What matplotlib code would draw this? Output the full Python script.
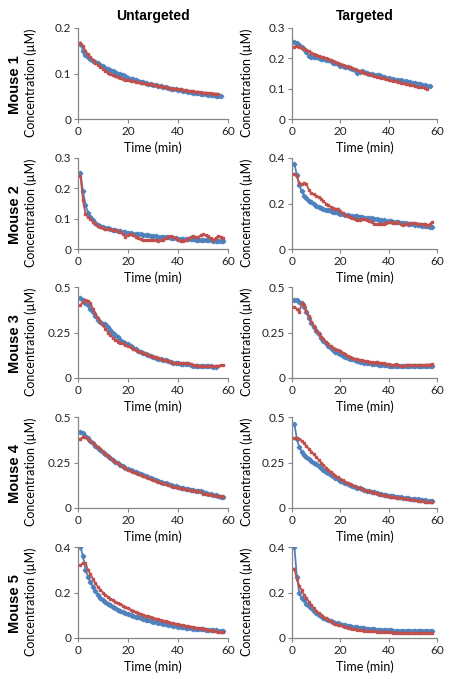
import matplotlib
matplotlib.use("Agg")
import matplotlib.pyplot as plt

# time points (min)
TIME = [1, 2, 3, 4, 5, 6, 7, 8, 9, 10, 11, 12, 13, 14, 15, 16, 17, 18, 19, 20,
        21, 22, 23, 24, 25, 26, 27, 28, 29, 30, 31, 32, 33, 34, 35, 36, 37, 38, 39, 40,
        41, 42, 43, 44, 45, 46, 47, 48, 49, 50, 51, 52, 53, 54, 55, 56, 57, 58]

COL_TITLES = ["Untargeted", "Targeted"]
ROW_LABELS = ["Mouse 1", "Mouse 2", "Mouse 3", "Mouse 4", "Mouse 5"]

# Mouse 1
u1_blue = [.165, .150, .141, .136, .132, .128, .125, .122, .119, .116, .113, .110, .108, .105, .103, .100,
           .098, .096, .094, .091, .089, .087, .086, .084, .082, .081, .079, .078, .077, .075, .074, .073,
           .072, .071, .070, .068, .067, .066, .065, .064, .063, .062, .061, .060, .059, .058, .058, .057,
           .056, .055, .054, .053, .053, .052, .051, .050, .050]
u1_red = [.168, .160, .150, .142, .136, .130, .124, .119, .114, .110, .106, .102, .099, .096, .094, .092,
          .090, .088, .086, .085, .084, .083, .082, .081, .080, .079, .078, .077, .076, .075, .074, .073,
          .072, .071, .070, .069, .068, .067, .066, .065, .065, .064, .063, .062, .062, .061, .060, .060,
          .059, .058, .058, .057, .057, .056, .056, .055]
t1_blue = [.255, .250, .243, .237, .230, .222, .207, .203, .205, .203, .201, .199, .197, .196, .193, .190,
           .186, .183, .180, .176, .174, .172, .170, .168, .166, .162, .153, .154, .157, .156, .153, .150,
           .148, .146, .145, .144, .141, .138, .136, .134, .133, .132, .130, .128, .127, .126, .124, .122,
           .121, .119, .118, .117, .115, .113, .112, .110, .108]
t1_red = [.238, .242, .239, .235, .231, .227, .223, .219, .215, .212, .209, .206, .203, .200, .197, .194,
          .191, .188, .185, .182, .179, .176, .173, .170, .167, .164, .161, .158, .155, .153, .150, .148,
          .145, .143, .140, .138, .136, .134, .132, .130, .128, .126, .124, .122, .120, .118, .116, .114,
          .112, .111, .109, .107, .105, .104, .102, .100]

# Mouse 2
u2_blue = [.250, .190, .145, .120, .105, .095, .087, .080, .076, .072, .070, .068, .066, .064, .062, .060,
           .058, .056, .055, .053, .052, .051, .050, .049, .048, .047, .046, .045, .044, .043, .042, .041,
           .040, .039, .038, .038, .037, .036, .035, .034, .034, .033, .033, .032, .032, .032, .031, .031,
           .030, .030, .030, .029, .029, .028, .028, .028, .027, .027]
u2_red = [.240, .160, .115, .105, .098, .090, .082, .075, .071, .068, .067, .066, .065, .063, .061, .058,
          .055, .050, .040, .045, .048, .047, .040, .035, .032, .030, .030, .030, .030, .030, .029, .028,
          .029, .030, .035, .040, .042, .040, .035, .030, .028, .028, .030, .032, .040, .042, .040, .038,
          .045, .048, .045, .042, .035, .030, .035, .042, .040, .035]
t2_blue = [.375, .325, .280, .255, .235, .222, .212, .205, .197, .190, .185, .180, .177, .173, .170, .167,
           .164, .161, .158, .155, .153, .151, .149, .147, .145, .144, .143, .141, .140, .138, .137, .136,
           .135, .133, .130, .129, .128, .127, .125, .122, .121, .120, .119, .117, .115, .114, .113, .111,
           .110, .108, .107, .106, .104, .102, .100, .099, .097, .095]
t2_red = [.330, .320, .290, .285, .290, .285, .260, .245, .240, .235, .228, .220, .210, .200, .193, .185,
          .180, .175, .178, .165, .158, .150, .145, .140, .135, .130, .128, .128, .130, .130, .128, .125,
          .118, .112, .110, .110, .111, .112, .115, .118, .117, .115, .116, .118, .110, .105, .108, .110,
          .113, .115, .113, .112, .110, .108, .112, .102, .108, .118]

# Mouse 3
u3_blue = [.440, .430, .410, .400, .380, .360, .340, .320, .305, .295, .295, .280, .265, .250, .235, .225,
           .210, .200, .192, .185, .175, .165, .158, .150, .142, .135, .130, .125, .120, .115, .110, .105,
           .102, .100, .097, .095, .090, .085, .082, .080, .079, .078, .076, .075, .070, .068, .066, .065,
           .065, .065, .064, .065, .064, .063, .062]
u3_red = [.400, .420, .430, .425, .410, .380, .350, .330, .310, .290, .270, .250, .235, .220, .210, .200,
          .195, .190, .182, .175, .168, .160, .154, .148, .143, .138, .133, .128, .123, .118, .114, .110,
          .105, .100, .097, .095, .090, .085, .082, .080, .080, .080, .080, .080, .075, .070, .069, .068,
          .066, .065, .065, .065, .065, .065, .066, .068, .069, .070]
t3_blue = [.430, .430, .420, .410, .390, .360, .330, .300, .280, .260, .240, .220, .205, .190, .178, .165,
           .155, .145, .137, .130, .122, .115, .110, .105, .102, .100, .095, .090, .088, .085, .083, .080,
           .078, .077, .075, .073, .072, .070, .069, .068, .067, .067, .066, .066, .065, .065, .065, .065,
           .065, .065, .065, .066, .066, .066, .066, .067, .067, .068]
t3_red = [.390, .380, .360, .410, .400, .370, .340, .310, .285, .265, .245, .225, .212, .200, .187, .175,
          .167, .160, .155, .150, .140, .130, .122, .115, .110, .105, .102, .100, .097, .095, .092, .090,
          .087, .085, .090, .085, .082, .080, .077, .075, .072, .070, .075, .070, .068, .068, .069, .070,
          .070, .070, .071, .071, .072, .072, .072, .073, .074, .075]

# Mouse 4
u4_blue = [.420, .410, .395, .383, .370, .357, .343, .330, .318, .305, .295, .284, .274, .264, .255, .246,
           .238, .230, .222, .215, .209, .202, .196, .190, .185, .180, .175, .170, .165, .160, .155, .150,
           .145, .140, .135, .131, .127, .123, .119, .115, .112, .109, .106, .103, .100, .098, .096, .095,
           .093, .090, .082, .078, .075, .072, .070, .066, .063, .060]
u4_red = [.380, .390, .390, .380, .370, .358, .346, .335, .322, .310, .298, .287, .276, .265, .255, .245,
          .236, .227, .218, .210, .203, .197, .191, .185, .180, .175, .170, .165, .160, .155, .150, .145,
          .140, .135, .130, .126, .122, .118, .115, .112, .109, .106, .103, .100, .098, .096, .094, .092,
          .090, .078, .077, .075, .073, .070, .068, .066, .064, .062]
t4_blue = [.460, .380, .335, .310, .290, .280, .270, .260, .250, .240, .230, .220, .210, .200, .190, .182,
           .174, .166, .158, .150, .144, .138, .132, .126, .120, .116, .112, .108, .104, .100, .096, .093,
           .090, .086, .082, .079, .077, .074, .071, .068, .066, .064, .062, .060, .058, .057, .055, .054,
           .052, .050, .049, .047, .046, .045, .042, .041, .040, .038]
t4_red = [.385, .385, .380, .370, .355, .340, .325, .310, .295, .280, .265, .250, .236, .222, .210, .199,
          .188, .178, .169, .160, .152, .145, .138, .131, .125, .119, .114, .109, .104, .100, .096, .092,
          .088, .084, .080, .077, .074, .071, .068, .065, .063, .061, .059, .057, .055, .053, .051, .049,
          .047, .045, .043, .041, .039, .037, .035, .034, .034, .033]

# Mouse 5
u5_blue = [.400, .360, .300, .270, .245, .225, .205, .190, .177, .165, .157, .150, .143, .136, .130, .125,
           .119, .114, .109, .105, .101, .098, .094, .091, .088, .085, .081, .078, .075, .072, .070, .067,
           .065, .062, .060, .058, .056, .054, .052, .050, .048, .047, .045, .044, .042, .041, .040, .039,
           .038, .038, .037, .036, .035, .034, .033, .032, .031, .030]
u5_red = [.320, .330, .330, .300, .280, .260, .240, .225, .212, .200, .190, .180, .173, .166, .160, .154,
          .148, .142, .136, .130, .125, .120, .115, .110, .105, .102, .098, .095, .092, .088, .085, .082,
          .079, .076, .073, .071, .068, .065, .062, .060, .058, .056, .054, .052, .050, .048, .046, .044,
          .042, .040, .038, .036, .034, .032, .030, .028, .027, .025]
t5_blue = [.400, .270, .200, .175, .165, .150, .140, .130, .120, .110, .102, .095, .090, .085, .080, .076,
           .072, .068, .064, .060, .058, .056, .054, .052, .050, .048, .047, .045, .044, .042, .041, .040,
           .039, .038, .037, .036, .035, .034, .034, .033, .033, .032, .032, .032, .031, .031, .031, .030,
           .030, .030, .030, .030, .030, .030, .030, .030, .030, .030]
t5_red = [.305, .260, .230, .210, .190, .175, .160, .145, .132, .120, .110, .100, .093, .086, .080, .074,
          .068, .063, .059, .055, .052, .049, .046, .043, .040, .038, .036, .035, .033, .032, .031, .030,
          .029, .029, .028, .027, .027, .026, .026, .025, .025, .024, .024, .024, .023, .023, .023, .022,
          .022, .022, .022, .021, .021, .021, .020, .020, .020, .020]

# y-axis ticks per panel (row, col)
Y_TICKS = [
    [[0, 0.1, 0.2], [0, 0.1, 0.2, 0.3]],
    [[0, 0.1, 0.2, 0.3], [0, 0.2, 0.4]],
    [[0, 0.25, 0.5], [0, 0.25, 0.5]],
    [[0, 0.25, 0.5], [0, 0.25, 0.5]],
    [[0, 0.2, 0.4], [0, 0.2, 0.4]],
]

PANELS = [
    [(u1_blue, u1_red), (t1_blue, t1_red)],
    [(u2_blue, u2_red), (t2_blue, t2_red)],
    [(u3_blue, u3_red), (t3_blue, t3_red)],
    [(u4_blue, u4_red), (t4_blue, t4_red)],
    [(u5_blue, u5_red), (t5_blue, t5_red)],
]

BLUE = "#4f81bd"
RED = "#c0504d"
GRAY = "#868686"
W, H = 452, 679

fig = plt.figure(figsize=(W / 100, H / 100), dpi=100)
plt.rcParams["font.family"] = ["Lato", "DejaVu Sans"]

col_left = [78, 292]
col_width = [150, 145]
row_top = [28, 158, 287, 417, 547]
ax_h = 91


def fmt(v):
    return "0" if v == 0 else ("%g" % v)


for r in range(5):
    for c in range(2):
        ax = fig.add_axes([col_left[c] / W, 1 - (row_top[r] + ax_h) / H,
                           col_width[c] / W, ax_h / H])
        blue, red = PANELS[r][c]
        ax.plot(TIME[:len(blue)], blue, color=BLUE, lw=1.3, marker="D",
                ms=2.3, mec=BLUE, zorder=2)
        ax.plot(TIME[:len(red)], red, color=RED, lw=1.3, marker="s",
                ms=1.8, mec=RED, zorder=3)
        yt = Y_TICKS[r][c]
        ax.set_xlim(0, 60)
        ax.set_ylim(0, yt[-1])
        ax.set_xticks([0, 20, 40, 60])
        ax.set_yticks(yt)
        ax.set_yticklabels([fmt(v) for v in yt])
        for s in ["top", "right"]:
            ax.spines[s].set_visible(False)
        for s in ["left", "bottom"]:
            ax.spines[s].set_color(GRAY)
            ax.spines[s].set_linewidth(0.9)
        ax.tick_params(length=3, width=0.8, color=GRAY, labelsize=8.5,
                       labelcolor="#222222", pad=2)
        ax.set_xlabel("Time (min)", fontsize=9, labelpad=3)
        ax.set_ylabel("Concentration (\u00b5M)", fontsize=9, labelpad=3)
        ax.yaxis.set_label_coords(-0.27, 0.4)
        if r == 0:
            ax.set_title(COL_TITLES[c], fontsize=10, fontweight="bold",
                         family="Liberation Sans", pad=6)

for r in range(5):
    yc = row_top[r] + ax_h / 2 + 11
    fig.text(15 / W, 1 - yc / H, ROW_LABELS[r], rotation=90, fontsize=10.5,
             fontweight="bold", family="Liberation Sans", ha="center", va="center")

fig.savefig("out.png", dpi=100)
